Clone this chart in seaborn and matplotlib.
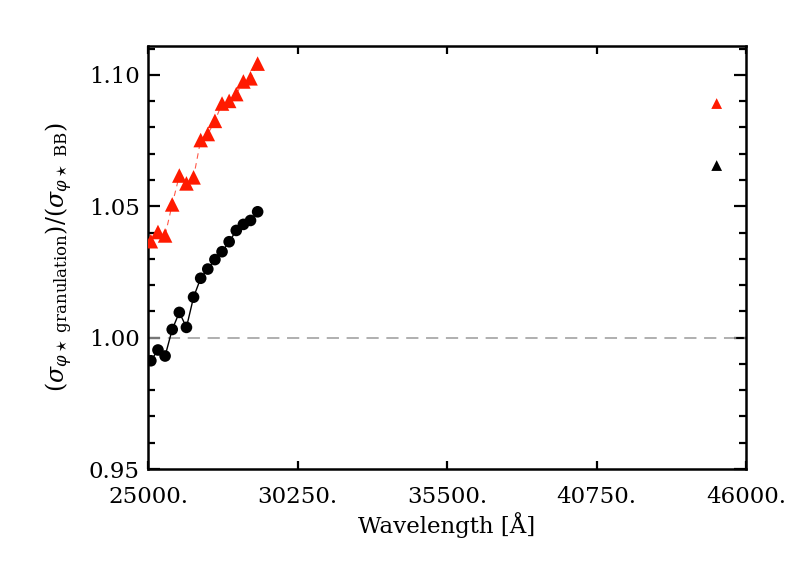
import matplotlib
matplotlib.use("Agg")
import matplotlib.pyplot as plt
import seaborn as sns
import pandas as pd
from matplotlib.ticker import FixedLocator, FuncFormatter, MultipleLocator

# ---- data ----
wavelength = [25100, 25350, 25600, 25850, 26100, 26350, 26600, 26850,
              27100, 27350, 27600, 27850, 28100, 28350, 28600, 28850]
ratio_black = [0.9912, 0.9953, 0.9930, 1.0031, 1.0096, 1.0039, 1.0154, 1.0226,
               1.0261, 1.0297, 1.0327, 1.0365, 1.0408, 1.0431, 1.0446, 1.0479]
ratio_red = [1.0367, 1.0402, 1.0389, 1.0507, 1.0617, 1.0587, 1.0610, 1.0752,
             1.0775, 1.0825, 1.0891, 1.0901, 1.0927, 1.0975, 1.0987, 1.1043]
single_wavelength = [44970]
single_red = [1.0891]
single_black = [1.0655]
reference_level = 1.0
x_ticks = [25000, 30250, 35500, 40750, 46000]
y_ticks = [0.95, 1.00, 1.05, 1.10]

sns.set_style("ticks")
plt.rcParams["font.family"] = ["DejaVu Serif"]
plt.rcParams["mathtext.fontset"] = "dejavuserif"
plt.rcParams["text.color"] = "black"
plt.rcParams["axes.labelcolor"] = "black"
plt.rcParams["xtick.color"] = "black"
plt.rcParams["ytick.color"] = "black"

fig = plt.figure(figsize=(7.89, 5.64), dpi=100)
ax = fig.add_axes([148 / 789, 1 - 469 / 564, 598 / 789, 423 / 564])

df_b = pd.DataFrame({"w": wavelength, "r": ratio_black})
df_r = pd.DataFrame({"w": wavelength, "r": ratio_red})

ax.axhline(reference_level, color="#9a9a9a", lw=1.1, dashes=(8, 5), zorder=1)

sns.lineplot(data=df_r, x="w", y="r", ax=ax, sort=False, color="#ff5a4a",
             lw=0.8, dashes=False, linestyle=(0, (5, 4)), zorder=2)
sns.scatterplot(data=df_r, x="w", y="r", ax=ax, marker="^", s=110,
                color="#ff1a00", edgecolor="none", zorder=3)

sns.lineplot(data=df_b, x="w", y="r", ax=ax, sort=False, color="black",
             lw=1.0, zorder=2)
sns.scatterplot(data=df_b, x="w", y="r", ax=ax, marker="o", s=70,
                color="black", edgecolor="none", zorder=3)

sns.scatterplot(x=single_wavelength, y=single_red, ax=ax, marker="^", s=60,
                color="#ff1a00", edgecolor="none", zorder=3)
sns.scatterplot(x=single_wavelength, y=single_black, ax=ax, marker="^", s=60,
                color="black", edgecolor="none", zorder=3)

ax.set_xlim(25000, 46000)
ax.set_ylim(0.95, 1.111)

ax.xaxis.set_major_locator(FixedLocator(x_ticks))
ax.xaxis.set_major_formatter(FuncFormatter(lambda v, p: f"{v:.0f}."))
ax.yaxis.set_major_locator(FixedLocator(y_ticks))
ax.yaxis.set_major_formatter(FuncFormatter(lambda v, p: f"{v:.2f}"))
ax.yaxis.set_minor_locator(MultipleLocator(0.01))

for s in ax.spines.values():
    s.set_visible(True)
    s.set_linewidth(1.8)
    s.set_color("black")

ax.tick_params(axis="x", which="major", direction="in", length=6, width=1.6,
               top=True, bottom=True, labelsize=16.5, pad=12)
ax.tick_params(axis="y", which="major", direction="in", length=8.6, width=1.6,
               left=True, right=True, labelsize=16.5, pad=6)
ax.tick_params(axis="y", which="minor", direction="in", length=5, width=1.6,
               left=True, right=True)

ax.set_xlabel("Wavelength [Å]", fontsize=16.5, labelpad=3)
ax.set_ylabel(r"$\left(\sigma_{\varphi\star\ \mathrm{granulation}}\right)/\left(\sigma_{\varphi\star\ \mathrm{BB}}\right)$",
              fontsize=17, labelpad=10)

fig.savefig("out.png", dpi=100)
